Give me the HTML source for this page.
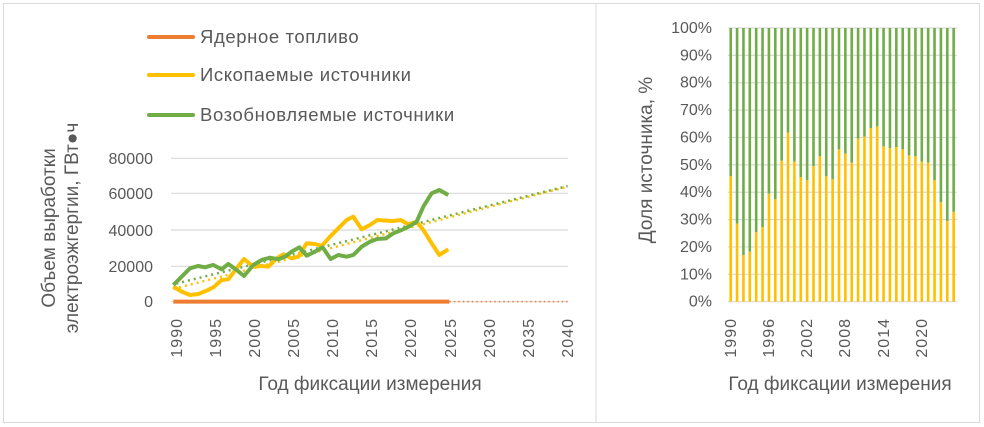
<!DOCTYPE html>
<html><head><meta charset="utf-8"><style>
body{margin:0;background:#fff;}
svg{display:block;font-family:"Liberation Sans",sans-serif;fill:#595959;}
</style></head><body>
<svg width="984" height="427" viewBox="0 0 984 427" xmlns="http://www.w3.org/2000/svg">
<rect x="3.5" y="3.5" width="976" height="419" fill="#fff" stroke="#d9d9d9"/>
<line x1="596" y1="3" x2="596" y2="423" stroke="#d9d9d9"/>
<g stroke-width="4" stroke-linecap="round">
<line x1="149" y1="37" x2="193" y2="37" stroke="#ed7d31"/>
<line x1="149" y1="75" x2="193" y2="75" stroke="#ffc000"/>
<line x1="149" y1="115" x2="193" y2="115" stroke="#70ad47"/>
</g>
<g font-size="18.5" letter-spacing="0.6">
<text x="200" y="43">Ядерное топливо</text>
<text x="200" y="81">Ископаемые источники</text>
<text x="200" y="121">Возобновляемые источники</text>
</g>
<g stroke="#d9d9d9" stroke-width="1.2">
<line x1="171" y1="158.3" x2="568" y2="158.3"/>
<line x1="171" y1="193.3" x2="568" y2="193.3"/>
<line x1="171" y1="230" x2="568" y2="230"/>
<line x1="171" y1="266.3" x2="568" y2="266.3"/>
<line x1="171" y1="301.7" x2="568" y2="301.7"/>
</g>
<g font-size="16" text-anchor="end">
<text x="153" y="164">80000</text>
<text x="153" y="199">60000</text>
<text x="153" y="236">40000</text>
<text x="153" y="272">20000</text>
<text x="153" y="307">0</text>
</g>
<g font-size="16" text-anchor="end" letter-spacing="1">
<text transform="translate(182,318) rotate(-90)">1990</text>
<text transform="translate(221,318) rotate(-90)">1995</text>
<text transform="translate(260,318) rotate(-90)">2000</text>
<text transform="translate(299,318) rotate(-90)">2005</text>
<text transform="translate(338,318) rotate(-90)">2010</text>
<text transform="translate(377,318) rotate(-90)">2015</text>
<text transform="translate(416,318) rotate(-90)">2020</text>
<text transform="translate(456,318) rotate(-90)">2025</text>
<text transform="translate(495,318) rotate(-90)">2030</text>
<text transform="translate(534,318) rotate(-90)">2035</text>
<text transform="translate(573,318) rotate(-90)">2040</text>
</g>
<text x="370" y="390" font-size="19" text-anchor="middle">Год фиксации измерения</text>
<g font-size="19" text-anchor="middle">
<text transform="translate(55,228) rotate(-90)">Объем выработки</text>
<text transform="translate(78,228) rotate(-90)">электроэжгергии, ГВт●ч</text>
</g>
<g transform="translate(140,140) scale(0.3333)" fill="none" stroke-linejoin="round">
<line x1="100" y1="485" x2="928" y2="485" stroke="#ed7d31" stroke-width="4" vector-effect="non-scaling-stroke"/>
<line x1="928" y1="485" x2="1283" y2="485" stroke="#ed7d31" stroke-width="1.5" stroke-dasharray="1.5 3" vector-effect="non-scaling-stroke"/>
<line x1="100" y1="447" x2="1283" y2="140" stroke="#ffc000" stroke-width="2.5" stroke-dasharray="2 4" vector-effect="non-scaling-stroke"/>
<line x1="100" y1="433" x2="1283" y2="138" stroke="#70ad47" stroke-width="2.5" stroke-dasharray="2 4" stroke-dashoffset="3" vector-effect="non-scaling-stroke"/>
<polyline stroke="#ffc000" stroke-width="4" vector-effect="non-scaling-stroke" points="100,440 125,455 150,465 175,462 200,452 220,442 245,420 265,418 290,385 312,357 340,380 365,378 385,380 410,355 430,343 455,355 475,350 500,310 525,312 545,318 570,290 595,265 620,240 640,230 665,268 690,255 712,240 738,242 760,243 782,240 805,253 830,245 850,270 875,310 898,345 925,328"/>
<polyline stroke="#70ad47" stroke-width="4" vector-effect="non-scaling-stroke" points="100,435 150,385 175,378 195,382 220,375 245,388 265,372 290,390 312,408 340,375 365,360 390,353 415,358 435,350 455,335 478,322 500,347 525,335 548,322 572,357 595,345 620,350 640,345 665,320 690,305 712,297 738,295 760,280 785,270 810,258 830,245 850,200 875,160 898,150 925,165"/>
</g>
<g stroke="#d9d9d9" stroke-width="1.2" id="rg"></g>
<g id="bars"></g>
<g font-size="16" text-anchor="end" id="ry"></g>
<g font-size="16" text-anchor="end" letter-spacing="1">
<text transform="translate(736,318) rotate(-90)">1990</text>
<text transform="translate(774,318) rotate(-90)">1996</text>
<text transform="translate(812,318) rotate(-90)">2002</text>
<text transform="translate(850,318) rotate(-90)">2008</text>
<text transform="translate(889,318) rotate(-90)">2014</text>
<text transform="translate(927,318) rotate(-90)">2020</text>
</g>
<text x="840" y="390" font-size="19" text-anchor="middle">Год фиксации измерения</text>
<text transform="translate(652,160) rotate(-90)" font-size="19" text-anchor="middle">Доля источника, %</text>
<script>
(function(){
var ns="http://www.w3.org/2000/svg";
function el(t,a,p){var e=document.createElementNS(ns,t);for(var k in a)e.setAttribute(k,a[k]);document.getElementById(p).appendChild(e);return e;}
var yt=28,yb=301.7,hh=yb-yt;
for(var i=0;i<=10;i++){var y=yb-hh*i/10;el("line",{x1:728,x2:957,y1:y,y2:y},"rg");var t=el("text",{x:712,y:y+5},"ry");t.textContent=(i*10)+"%";}
var tops=[468,610,705,695,636,621,520,537,421,337,424,470,480,437,408,468,477,387,400,427,355,349,323,318,378,383,380,387,405,408,424,427,480,546,602,575];
for(var j=0;j<36;j++){var f=(845-tops[j])/823;var x=730.7+j*6.37-1.3;var yf=yb-hh*f;
el("rect",{x:x,y:yt,width:2.6,height:yf-yt,fill:"#70ad47"},"bars");
el("rect",{x:x,y:yf,width:2.6,height:yb-yf,fill:"#ffc000"},"bars");}
})();
</script>
</svg>
</body></html>
